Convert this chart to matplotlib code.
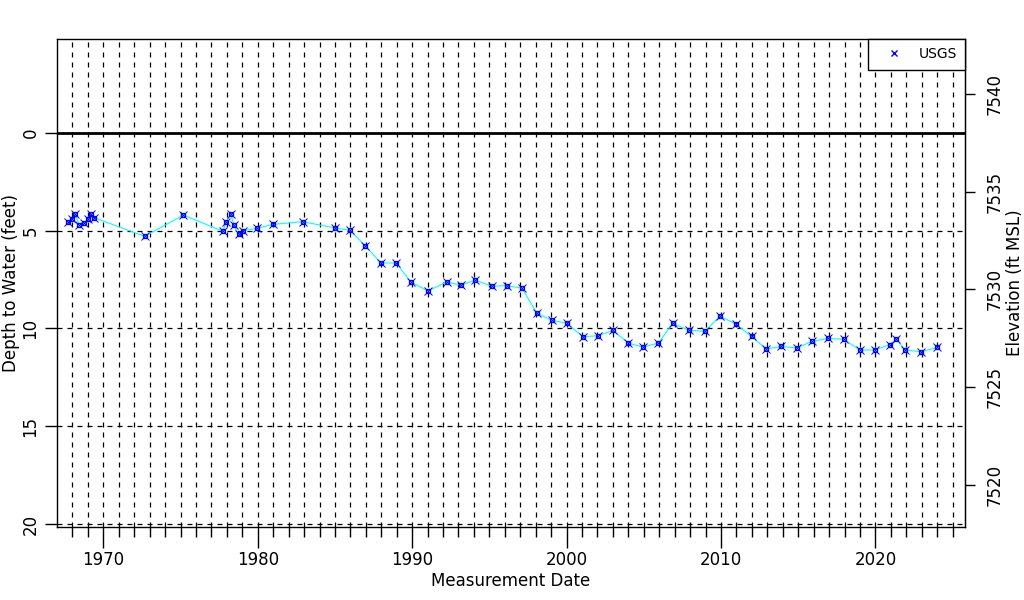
import numpy as np
import matplotlib.pyplot as plt
from matplotlib.lines import Line2D

# measurement dates (decimal years) and depth to water (feet)
dates = [1967.7, 1967.97, 1968.18, 1968.44, 1968.72, 1969.0, 1969.17, 1969.42,
         1972.68, 1975.19, 1977.74, 1977.96, 1978.26, 1978.45, 1978.76, 1979.04,
         1979.97, 1980.96, 1982.9, 1985.0, 1985.96, 1986.97, 1987.96, 1988.94,
         1989.95, 1991.03, 1992.24, 1993.13, 1994.1, 1995.14, 1996.11, 1997.11,
         1998.08, 1999.03, 2000.0, 2001.06, 2002.04, 2003.0, 2004.0, 2004.93,
         2005.93, 2006.88, 2007.92, 2008.96, 2009.93, 2010.97, 2011.98, 2012.93,
         2013.9, 2014.9, 2015.89, 2016.93, 2017.95, 2018.98, 2019.94, 2020.95,
         2021.36, 2021.93, 2022.94, 2024.0]
depth = [4.54, 4.39, 4.17, 4.71, 4.63, 4.39, 4.17, 4.34,
         5.29, 4.2, 5.03, 4.54, 4.13, 4.73, 5.19, 5.0,
         4.88, 4.68, 4.54, 4.86, 4.98, 5.77, 6.65, 6.65,
         7.64, 8.08, 7.62, 7.79, 7.53, 7.84, 7.81, 7.94,
         9.22, 9.58, 9.73, 10.42, 10.37, 10.1, 10.75, 10.95,
         10.75, 9.74, 10.09, 10.15, 9.37, 9.78, 10.41, 11.05,
         10.92, 11.0, 10.66, 10.51, 10.55, 11.1, 11.1, 10.82,
         10.55, 11.1, 11.19, 10.97]

land_surface = 7538.0
depth_ticks = [0, 5, 10, 15, 20]
elev_ticks = [7520, 7525, 7530, 7535, 7540]
decades = [1970, 1980, 1990, 2000, 2010, 2020]

px = 72 / 100  # points per pixel at dpi 100

plt.rcParams['font.family'] = ['DejaVu Sans']
fig = plt.figure(figsize=(10.24, 6), dpi=100)
ax = fig.add_axes([57/1024, 1 - 527/600, (965 - 57)/1024, (527 - 39)/600])

years = np.arange(1968, 2026)
for yr in years:
    ax.axvline(yr, color='black', linestyle=(0, (4, 4)), linewidth=0.9, zorder=1)
for d in depth_ticks[1:]:
    ax.axhline(d, color='black', linestyle=(0, (4, 4)), linewidth=0.9, zorder=1)
ax.axhline(0, color='black', linewidth=2, zorder=2)

ax.plot(dates, depth, color='cyan', linewidth=0.8, zorder=3)
ax.plot(dates, depth, linestyle='none', marker='s', markersize=3.5,
        markerfacecolor='none', markeredgecolor='blue', markeredgewidth=0.9, zorder=4)
ax.plot(dates, depth, linestyle='none', marker='x', markersize=6,
        color='blue', markeredgewidth=0.7, zorder=4)

ax.set_xlim(1967.0, 2025.8)
ax.set_ylim(20.15, -4.8)

ax.set_xticks(decades)
ax.set_xticks(years, minor=True)
ax.tick_params(axis='x', which='major', direction='out', length=21*px, width=1,
               labelsize=12, pad=2)
ax.tick_params(axis='x', which='minor', direction='out', length=10*px, width=1)
ax.set_yticks(depth_ticks)
ax.tick_params(axis='y', direction='out', length=12*px, width=1, labelsize=12, pad=4)
for lab in ax.get_yticklabels():
    lab.set_rotation(90)
    lab.set_va('center')

ax.set_xlabel('Measurement Date', fontsize=12, labelpad=2)
ax.set_ylabel('Depth to Water (feet)', fontsize=12, labelpad=1)

sec = ax.secondary_yaxis('right', functions=(lambda d: land_surface - d,
                                            lambda e: land_surface - e))
sec.set_yticks(elev_ticks)
sec.tick_params(direction='out', length=10*px, width=1, labelsize=12, pad=8)
for lab in sec.get_yticklabels():
    lab.set_rotation(90)
    lab.set_va('center')
sec.set_ylabel('Elevation (ft MSL)', fontsize=12, labelpad=1)

for s in ax.spines.values():
    s.set_linewidth(1)

handle = Line2D([], [], linestyle='none', marker='x', color='blue', markersize=5)
leg = ax.legend([handle], ['USGS'], loc='upper right', fancybox=False,
                edgecolor='black', framealpha=1, borderaxespad=0,
                fontsize=10, handlelength=2.5, borderpad=0.6, handletextpad=0.5)
leg.get_frame().set_linewidth(1)

fig.savefig('out.png', dpi=100)
